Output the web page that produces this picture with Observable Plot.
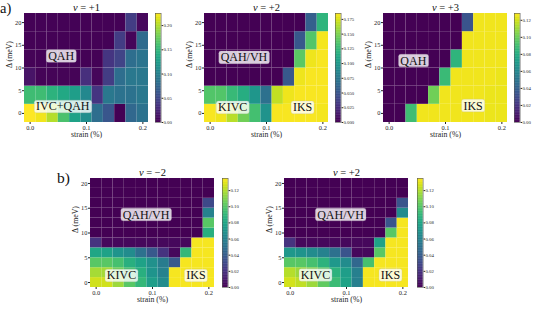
<!DOCTYPE html>
<html><head><meta charset="utf-8">
<script src="https://cdn.jsdelivr.net/npm/d3@7"></script>
<script src="https://cdn.jsdelivr.net/npm/@observablehq/plot@0.6"></script>
<style>
body{margin:0;background:#fff;}
#root{position:relative;width:540px;height:309px;overflow:hidden;font-family:"Liberation Serif",serif;}
#root svg{position:absolute;}
</style></head><body><div id="root"></div>
<script>
// ---------- data ----------
const strain = [0, 0.02, 0.04, 0.06, 0.08, 0.10, 0.12, 0.14, 0.16, 0.18, 0.20];
const deltaTop = [0, 4, 8, 12, 16, 20];
const deltaBottom = [0, 2, 4, 6, 8, 10, 12, 14, 16, 18, 20];
const strainTicks = [0, 0.1, 0.2];
const deltaTicks = [0, 5, 10, 15, 20];

// rows ordered by Δ ascending, columns by strain ascending
const nuPlus1 = [
  [0.225, 0.22, 0.20, 0.16, 0.13, 0.11, 0.08, 0.06, 0.0, 0.075, 0.085],
  [0.155, 0.155, 0.145, 0.135, 0.125, 0.105, 0.035, 0.09, 0.085, 0.085, 0.09],
  [0.012, 0.002, 0.002, 0.002, 0.002, 0.03, 0.004, 0.04, 0.08, 0.09, 0.09],
  [0.002, 0.001, 0.001, 0.001, 0.001, 0.001, 0.001, 0.035, 0.045, 0.08, 0.087],
  [0.001, 0.001, 0.001, 0.001, 0.001, 0.001, 0.001, 0.001, 0.04, 0.003, 0.078],
  [0.001, 0.001, 0.001, 0.001, 0.001, 0.001, 0.001, 0.001, 0.001, 0.04, 0.005]
];
const nuPlus2Top = [
  [0.183, 0.18, 0.165, 0.145, 0.13, 0.095, 0.183, 0.183, 0.183, 0.183, 0.182],
  [0.135, 0.135, 0.125, 0.115, 0.097, 0.068, 0.168, 0.18, 0.183, 0.183, 0.183],
  [0, 0, 0, 0, 0, 0, 0, 0.05, 0.18, 0.183, 0.183],
  [0, 0, 0, 0, 0, 0, 0, 0, 0.138, 0.18, 0.183],
  [0, 0, 0, 0, 0, 0, 0, 0, 0.05, 0.135, 0.182],
  [0, 0, 0, 0, 0, 0, 0, 0, 0, 0.055, 0.12]
];
const nuPlus3 = [
  [0, 0, 0.088, 0.125, 0.125, 0.125, 0.125, 0.125, 0.125, 0.124, 0.124],
  [0, 0, 0, 0, 0.10, 0.125, 0.125, 0.125, 0.125, 0.124, 0.124],
  [0, 0, 0, 0, 0, 0.087, 0.125, 0.125, 0.125, 0.125, 0.124],
  [0, 0, 0, 0, 0, 0, 0.083, 0.125, 0.125, 0.125, 0.125],
  [0, 0, 0, 0, 0, 0, 0, 0.125, 0.125, 0.125, 0.125],
  [0, 0, 0, 0, 0, 0, 0, 0.033, 0.125, 0.125, 0.125]
];
const nuMinus2 = [
  [0.125, 0.125, 0.115, 0.10, 0.09, 0.075, 0.065, 0.133, 0.133, 0.133, 0.133],
  [0.117, 0.117, 0.105, 0.095, 0.085, 0.07, 0.06, 0.133, 0.133, 0.133, 0.133],
  [0.10, 0.10, 0.095, 0.085, 0.078, 0.068, 0.056, 0.037, 0.133, 0.133, 0.133],
  [0.08, 0.078, 0.07, 0.065, 0.05, 0.037, 0.02, 0.003, 0.09, 0.133, 0.133],
  [0.02, 0.003, 0.003, 0.003, 0.003, 0.003, 0.003, 0.003, 0.003, 0.133, 0.133],
  [0, 0, 0, 0, 0, 0, 0, 0, 0, 0, 0.085],
  [0, 0, 0, 0, 0, 0, 0, 0, 0, 0, 0.10],
  [0, 0, 0, 0, 0, 0, 0, 0, 0, 0, 0.06],
  [0, 0, 0, 0, 0, 0, 0, 0, 0, 0, 0.03],
  [0, 0, 0, 0, 0, 0, 0, 0, 0, 0, 0],
  [0, 0, 0, 0, 0, 0, 0, 0, 0, 0, 0]
];
const nuPlus2Bottom = [
  [0.126, 0.122, 0.115, 0.102, 0.092, 0.078, 0.058, 0.133, 0.133, 0.133, 0.133],
  [0.12, 0.115, 0.11, 0.10, 0.087, 0.075, 0.058, 0.133, 0.133, 0.133, 0.133],
  [0.10, 0.10, 0.095, 0.087, 0.072, 0.065, 0.045, 0.095, 0.133, 0.133, 0.133],
  [0.072, 0.07, 0.065, 0.06, 0.05, 0.035, 0.003, 0.003, 0.10, 0.133, 0.133],
  [0.02, 0.003, 0.003, 0.003, 0.003, 0.003, 0.003, 0.003, 0.078, 0.133, 0.133],
  [0, 0, 0, 0, 0, 0, 0, 0, 0, 0.10, 0.133],
  [0, 0, 0, 0, 0, 0, 0, 0, 0, 0.035, 0.133],
  [0, 0, 0, 0, 0, 0, 0, 0, 0, 0, 0.065],
  [0, 0, 0, 0, 0, 0, 0, 0, 0, 0, 0.035],
  [0, 0, 0, 0, 0, 0, 0, 0, 0, 0, 0],
  [0, 0, 0, 0, 0, 0, 0, 0, 0, 0, 0]
];
const cbTicksP1 = [0, 0.05, 0.10, 0.15, 0.20];
const cbTicksP2 = [0, 0.025, 0.05, 0.075, 0.10, 0.125, 0.15, 0.175];
const cbTicksSmall = [0, 0.02, 0.04, 0.06, 0.08, 0.10, 0.12];
const titles = ["ν = +1", "ν = +2", "ν = +3", "ν = \u22122", "ν = +2"];
const labelsP1 = ["QAH", "IVC+QAH"];
const labelsP2 = ["QAH/VH", "KIVC", "IKS"];
const labelsP3 = ["QAH", "IKS"];

// ---------- layout ----------
const FONT = '"Liberation Serif", "DejaVu Serif", serif';
const PW = 124, PH = 109, ML = 26, MR = 3, MT = 16, MB = 22;
const panels = [
  {title: titles[0], values: nuPlus1, delta: deltaTop, vmax: 0.225, cb: cbTicksP1, fmt: ".2f", px: 23.5, py: 12.7, cbx: 155.2,
   labels: [{t: labelsP1[0], x: 0.055, y: 12.6}, {t: labelsP1[1], x: 0.058, y: 1.5}]},
  {title: titles[1], values: nuPlus2Top, delta: deltaTop, vmax: 0.185, cb: cbTicksP2, fmt: ".3f", px: 203.5, py: 12.7, cbx: 335.2,
   labels: [{t: labelsP2[0], x: 0.06, y: 12.3}, {t: labelsP2[1], x: 0.04, y: 1.3}, {t: labelsP2[2], x: 0.164, y: 1.3}]},
  {title: titles[2], values: nuPlus3, delta: deltaTop, vmax: 0.128, cb: cbTicksSmall, fmt: ".2f", px: 382.5, py: 12.7, cbx: 514,
   labels: [{t: labelsP3[0], x: 0.043, y: 11.6}, {t: labelsP3[1], x: 0.149, y: 1.7}]},
  {title: titles[3], values: nuMinus2, delta: deltaBottom, vmax: 0.135, cb: cbTicksSmall, fmt: ".2f", px: 89.5, py: 178, cbx: 221.5,
   labels: [{t: labelsP2[0], x: 0.0885, y: 13.7}, {t: labelsP2[1], x: 0.045, y: 1.4}, {t: labelsP2[2], x: 0.177, y: 1.4}]},
  {title: titles[4], values: nuPlus2Bottom, delta: deltaBottom, vmax: 0.135, cb: cbTicksSmall, fmt: ".2f", px: 284, py: 178, cbx: 416.7,
   labels: [{t: labelsP2[0], x: 0.0894, y: 13.7}, {t: labelsP2[1], x: 0.045, y: 1.5}, {t: labelsP2[2], x: 0.178, y: 1.5}]}
];

const root = document.getElementById("root");
const halfS = (strain[1] - strain[0]) / 2;

function place(svg, left, top) {
  svg.style.left = left + "px";
  svg.style.top = top + "px";
  root.appendChild(svg);
}

function decorate(svg) {
  // rounded translucent boxes behind the phase labels
  svg.querySelectorAll("g.plabel text").forEach(t => {
    const bb = t.getBBox();
    const r = document.createElementNS("http://www.w3.org/2000/svg", "rect");
    const h = 12.6, cy = bb.y + bb.height / 2;
    r.setAttribute("x", bb.x - 1.8);
    r.setAttribute("y", cy - h / 2);
    r.setAttribute("width", bb.width + 3.6);
    r.setAttribute("height", h);
    r.setAttribute("rx", 2.2);
    r.setAttribute("fill", "white");
    r.setAttribute("fill-opacity", 0.8);
    r.setAttribute("stroke", "#bbb");
    r.setAttribute("stroke-opacity", 0.5);
    r.setAttribute("stroke-width", 0.5);
    if (t.getAttribute("transform")) r.setAttribute("transform", t.getAttribute("transform"));
    t.parentNode.insertBefore(r, t);
  });
  // italic ν in titles
  svg.querySelectorAll("g.ptitle text").forEach(t => {
    const s = t.textContent;
    t.textContent = "";
    const a = document.createElementNS("http://www.w3.org/2000/svg", "tspan");
    a.setAttribute("font-style", "italic");
    a.textContent = s[0];
    const b = document.createElementNS("http://www.w3.org/2000/svg", "tspan");
    b.textContent = s.slice(1);
    t.appendChild(a); t.appendChild(b);
  });
}

panels.forEach(p => {
  const dStep = p.delta[1] - p.delta[0];
  const cells = [];
  p.delta.forEach((dl, i) => strain.forEach((s, j) => cells.push({s, dl, v: p.values[i][j]})));
  const svg = Plot.plot({
    width: ML + PW + MR, height: MT + PH + MB,
    marginLeft: ML, marginRight: MR, marginTop: MT, marginBottom: MB,
    style: {background: "none", overflow: "visible", fontFamily: FONT, fontSize: "6.4px", color: "#222"},
    x: {domain: [strain[0] - halfS, strain[strain.length - 1] + halfS]},
    y: {domain: [p.delta[0] - dStep / 2, p.delta[p.delta.length - 1] + dStep / 2]},
    color: {type: "linear", scheme: "viridis", domain: [0, p.vmax]},
    marks: [
      Plot.rect(cells, {x1: d => d.s - halfS, x2: d => d.s + halfS, y1: d => d.dl - dStep / 2, y2: d => d.dl + dStep / 2,
        fill: "v", stroke: "white", strokeOpacity: 0.05, strokeWidth: 0.4}),
      Plot.axisX(strainTicks, {tickSize: 2, tickPadding: 1.2, tickFormat: d3.format(".1f"), label: null}),
      Plot.axisY(deltaTicks, {tickSize: 2, tickPadding: 1, label: null}),
      Plot.text([p.title], {frameAnchor: "top", lineAnchor: "bottom", dy: -2.2, fontSize: 10.5, fill: "#111", className: "ptitle"}),
      Plot.text(["Δ (meV)"], {frameAnchor: "left", rotate: -90, dx: -15.5, fontSize: 7.8, fill: "#222"}),
      Plot.text(["strain (%)"], {frameAnchor: "bottom", dy: 14.3, fontSize: 7.8, fill: "#222"}),
      Plot.text(p.labels, {x: "x", y: "y", text: "t", fontSize: 12, fill: "#111", className: "plabel"})
    ]
  });
  place(svg, p.px - ML, p.py - MT);
  decorate(svg);

  // colour bar
  const n = 150;
  const steps = d3.range(n).map(i => p.vmax * i / n);
  const cbw = 5.6;
  const cb = Plot.plot({
    width: cbw + 26, height: MT + PH + MB,
    marginLeft: 0, marginRight: 26, marginTop: MT, marginBottom: MB,
    style: {background: "none", overflow: "visible", fontFamily: FONT, fontSize: "4.8px", color: "#222"},
    x: {domain: [0, 1], axis: null},
    y: {domain: [0, p.vmax]},
    color: {type: "linear", scheme: "viridis", domain: [0, p.vmax]},
    marks: [
      Plot.rect(steps, {x1: 0, x2: 1, y1: d => d, y2: d => Math.min(p.vmax, d + 1.6 * p.vmax / n), fill: d => d}),
      Plot.frame({stroke: "#555", strokeWidth: 0.6}),
      Plot.axisY(p.cb, {anchor: "right", tickSize: 1.5, tickPadding: 0.8, tickFormat: d3.format(p.fmt), label: null})
    ]
  });
  place(cb, p.cbx, p.py - MT);
});

// panel letters
const ns = "http://www.w3.org/2000/svg";
const ov = document.createElementNS(ns, "svg");
ov.setAttribute("width", 540); ov.setAttribute("height", 309);
ov.style.left = "0px"; ov.style.top = "0px"; ov.style.pointerEvents = "none";
[["a)", 0, 13.2, 14.5], ["b)", 57, 182.7, 15.5]].forEach(([s, x, y, fs]) => {
  const t = document.createElementNS(ns, "text");
  t.setAttribute("x", x); t.setAttribute("y", y);
  t.setAttribute("font-size", fs); t.setAttribute("font-family", FONT); t.setAttribute("fill", "#111");
  t.textContent = s;
  ov.appendChild(t);
});
root.appendChild(ov);
</script></body></html>
